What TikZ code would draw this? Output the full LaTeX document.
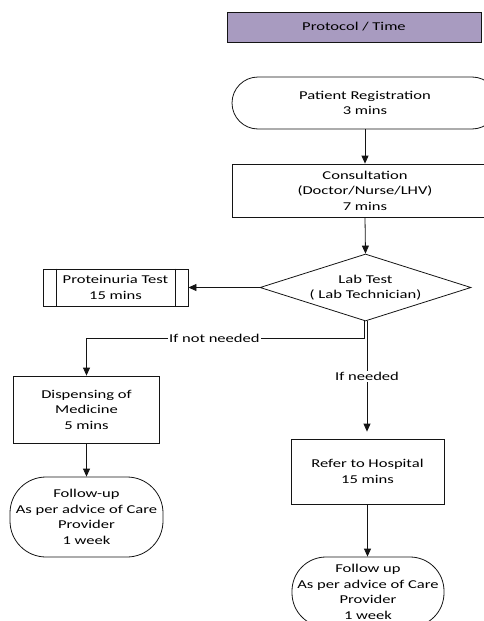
\documentclass[tikz,border=0pt]{standalone}
\usepackage{fontspec}
\setmainfont{Carlito}[FakeStretch=1.38]
\usetikzlibrary{shapes.geometric,arrows.meta,calc}
\definecolor{lav}{RGB}{168,155,192}
\definecolor{ln}{RGB}{20,20,20}
\begin{document}
\begin{tikzpicture}[x=1pt,y=-1pt,
  every node/.style={font=\fontsize{12}{15.5}\selectfont, align=center, inner sep=0pt, text=black},
  box/.style={draw=ln, line width=0.8pt, rectangle},
  term/.style={draw=ln, line width=0.8pt, rectangle, rounded corners=#1},
  dec/.style={draw=ln, line width=0.8pt, diamond, aspect=3.15},
  arr/.style={draw=ln, line width=0.8pt, -{Triangle[length=8pt,width=7pt]}},
  lbl/.style={fill=white, inner sep=1pt}
]
\useasboundingbox (0,0) rectangle (484,621);
\clip (0,0) rectangle (484,621);

\node[box, fill=lav, minimum width=254pt, minimum height=30pt] (prot) at (354,27) {Protocol / Time};
\node[term=26pt, minimum width=266pt, minimum height=52pt] (reg) at (365,103) {Patient Registration\\3 mins};
\node[box, minimum width=266pt, minimum height=53pt] (cons) at (365,190.5) {Consultation\\(Doctor/Nurse/LHV)\\7 mins};
\node[dec, minimum width=211pt, minimum height=67pt] (dia) at (365.5,287.5) {Lab Test\\( Lab Technician)};
\node[box, minimum width=145pt, minimum height=37pt] (prt) at (115.5,287.5) {Proteinuria Test\\15 mins};
\draw[ln, line width=0.8pt] ([xshift=14pt]prt.north west) -- ([xshift=14pt]prt.south west);
\draw[ln, line width=0.8pt] ([xshift=-13pt]prt.north east) -- ([xshift=-13pt]prt.south east);
\node[box, minimum width=146pt, minimum height=67pt] (disp) at (86.5,409.5) {Dispensing of\\Medicine\\5 mins};
\node[term=36pt, minimum width=153pt, minimum height=80pt] (fu1) at (86.5,517) {Follow-up\\As per advice of Care\\Provider\\1 week};
\node[box, minimum width=153pt, minimum height=65pt] (ref) at (367.5,471.5) {Refer to Hospital\\15 mins};
\node[term=34pt, minimum width=152pt, minimum height=70pt] (fu2) at (368,592) {Follow up\\As per advice of Care\\Provider\\1 week};

\coordinate (dsl) at ([xshift=-1pt]dia.south);
\coordinate (dsr) at ([xshift=1.5pt]dia.south);

\draw[arr] (reg.south) -- (cons.north);
\draw[arr] (cons.south) -- (dia.north);
\draw[arr] (dia.west) -- (prt.east);
\draw[arr] (dsl) -- ++(0,17) -| (disp.north) node[lbl, pos=0.27] {If not needed};
\draw[arr, shorten >=7pt] (dsr) -- (dsr |- ref.north) node[lbl, pos=0.47] {If needed};
\draw[arr] (disp.south) -- (fu1.north);
\draw[arr] (ref.south) -- (ref.south |- fu2.north);
\end{tikzpicture}
\end{document}
